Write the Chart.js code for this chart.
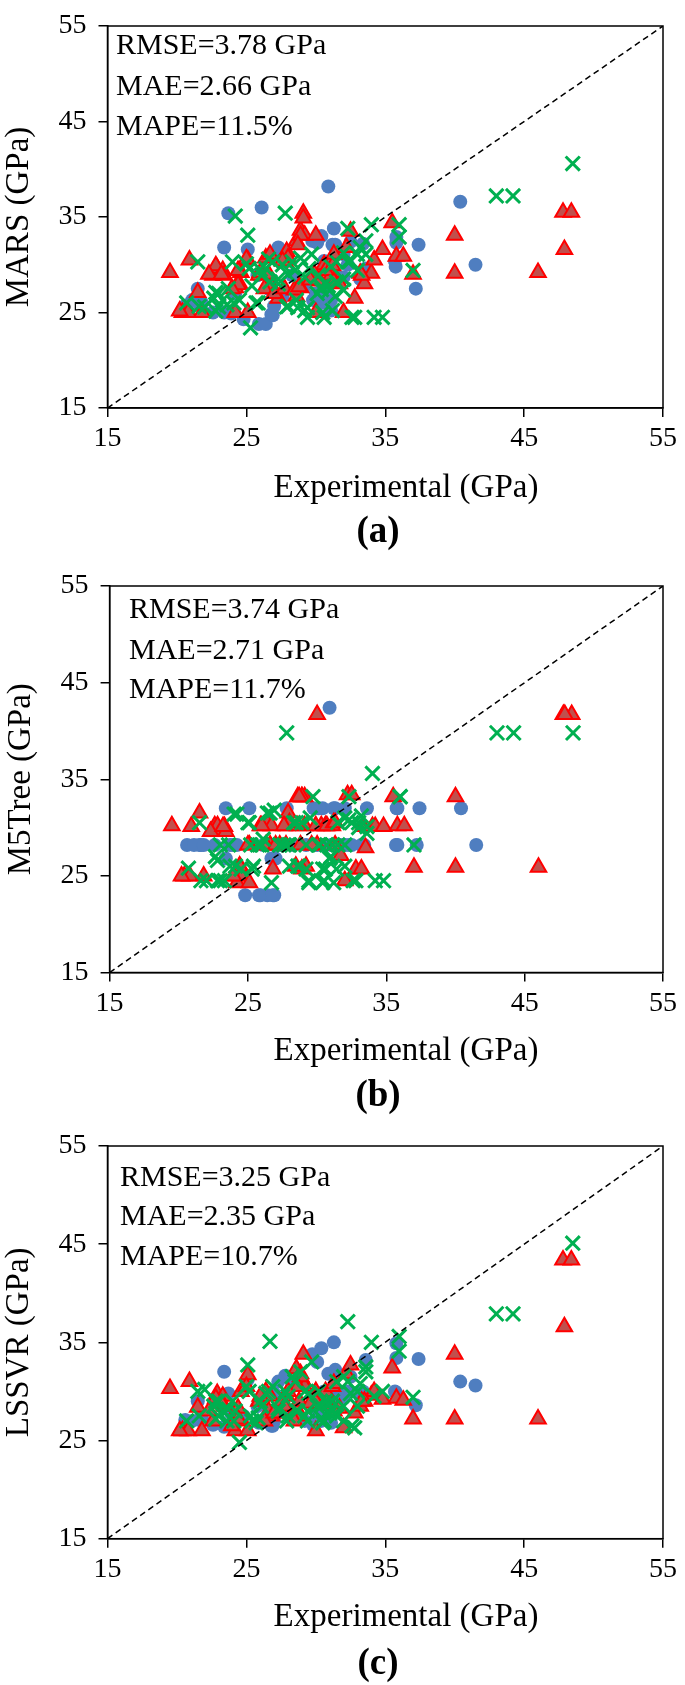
<!DOCTYPE html>
<html>
<head>
<meta charset="utf-8">
<script src="https://cdn.jsdelivr.net/npm/chart.js@4.4.1/dist/chart.umd.min.js"></script>
<style>
  html, body { margin: 0; padding: 0; background: #fff; }
  body { width: 685px; height: 1685px; position: relative; overflow: hidden; }
  .panel { position: absolute; left: 0; width: 685px; }
</style>
</head>
<body>
<div class="panel" style="top:0px"><canvas id="chartA" width="685" height="555"></canvas></div>
<div class="panel" style="top:560px"><canvas id="chartB" width="685" height="555"></canvas></div>
<div class="panel" style="top:1120px"><canvas id="chartC" width="685" height="565"></canvas></div>
<script>
// Axes (GPa)
const axisMin = 15;
const axisMax = 55;
const axisStep = 10;

// Experimental values, one array per marker group (same for the 3 models)
const expCircle = [30.9, 26.1, 23.7, 40.4, 31.3, 23.4, 25.1, 31.4, 29.75, 30.4, 33.4, 35.8, 35.8, 37.4, 35.75, 41.5, 37.2, 21.5, 20.6, 21.6, 23.4, 24.8, 25.9, 26.4, 26.9, 27.0, 27.8, 28.3, 29.2, 29.8, 30.6, 31.1, 32.3, 33.2, 33.6, 25.8, 26.7, 27.6, 23.9, 31.7, 32.0, 31.1, 22.6, 24.2,
    31.2, 30.1, 32.5, 35.7, 21.1, 21.8, 27.3, 30.6, 31.3, 31.5, 32.0, 27.0, 26.8, 31.1, 30.4, 30.0];
const expTriangle = [19.5, 20.9, 20.4, 20.8, 21.8, 21.5, 22.6, 22.9, 23.3, 23.4, 24.2, 24.5, 24.2, 24.6, 25.1, 25.1, 25.9, 26.4, 26.8, 27.3, 27.8, 27.9, 28.6, 28.9, 29.1, 29.1, 29.2, 30.0, 28.9, 28.6, 30.0, 30.3, 30.6, 32.0, 31.7, 32.2, 32.5, 32.8, 33.2, 34.0, 34.2, 34.8, 35.5, 35.8, 36.3, 37.0, 40.0, 40.0, 46.0, 47.8, 48.4, 47.9, 26.7, 31.1, 33.5,
    28.9, 28.7, 28.0, 27.6, 22.8, 22.3, 23.2, 24.4, 25.0, 26.0, 26.6, 24.4, 23.95, 20.2, 26.3, 27.0, 27.75, 28.46, 28.8, 29.9, 29.6, 30.7, 31.3, 31.2, 33.3, 31.3];
const expCross = [48.5, 43.0, 44.2, 27.8, 24.2, 25.1, 21.5, 20.7, 22.8, 23.3, 23.0, 23.6, 24.0, 24.5, 25.3, 25.2, 25.4, 26.1, 26.4, 26.9, 26.7, 27.3, 27.9, 28.3, 28.9, 29.5, 29.2, 29.4, 29.7, 30.2, 30.4, 30.6, 30.9, 31.4, 31.2, 32.0, 32.3, 32.3, 32.8, 33.0, 33.2, 33.6, 34.0, 34.2, 34.8, 36.0, 36.0, 37.0, 33.6, 31.5, 27.6, 28.6, 25.7, 22.0, 31.1,
    25.0, 26.0, 26.6, 28.0, 28.5, 29.2, 30.4, 31.0, 30.7, 32.0, 32.5, 33.0, 31.5, 32.0, 29.4, 30.5, 32.6, 21.6, 22.65, 24.1, 22.8, 23.0, 23.7, 25.85, 27.3, 28.0, 28.7, 30.1];

// MARS predictions
const marsCircle = [38.2, 36.0, 35.4, 36.6, 33.8, 31.8, 31.6, 32.1, 32.5, 33.0, 32.2, 32.9, 32.3, 32.1, 29.8, 30.0, 27.5, 27.5, 25.7, 25.9, 25.0, 24.3, 23.8, 23.8, 24.7, 30.7, 31.1, 28.9, 27.8, 26.3, 27.4, 25.2, 30.0, 28.5, 29.6, 28.9, 27.4, 26.7, 24.9, 28.2, 31.1, 29.6, 25.0, 27.0,
    32.1, 32.3, 32.4, 30.4, 26.3, 26.0, 31.8, 30.4, 29.05, 28.5, 28.7, 25.65, 24.8, 26.3, 26.0, 27.0];
const marsTriangle = [29.2, 30.5, 25.0, 25.0, 25.0, 27.1, 28.9, 29.6, 29.4, 28.9, 27.6, 28.0, 25.0, 29.2, 30.5, 25.0, 28.9, 30.7, 27.8, 26.5, 30.3, 31.4, 32.5, 33.6, 35.4, 34.9, 33.1, 33.1, 27.6, 26.7, 25.0, 28.3, 30.0, 25.0, 28.0, 31.8, 33.5, 26.5, 29.1, 29.1, 30.5, 31.6, 34.4, 30.9, 30.9, 29.0, 33.1, 29.1, 29.2, 35.5, 35.5, 31.6, 31.1, 28.9, 28.0,
    33.1, 32.1, 30.7, 30.4, 29.9, 29.0, 29.0, 29.4, 30.6, 29.2, 29.0, 27.9, 27.5, 25.15, 27.5, 27.0, 27.5, 27.35, 27.7, 29.05, 28.4, 29.4, 28.2, 29.9, 28.9, 31.1];
const marsCross = [40.6, 37.2, 37.2, 35.4, 35.1, 33.1, 30.3, 26.0, 27.1, 26.3, 25.6, 25.8, 30.3, 26.3, 23.4, 29.6, 27.8, 28.9, 29.6, 30.3, 28.2, 28.5, 25.6, 30.3, 30.7, 29.6, 25.2, 24.5, 31.1, 28.9, 27.4, 24.5, 27.8, 26.7, 25.2, 28.5, 30.3, 33.8, 24.5, 31.1, 31.8, 32.5, 34.2, 24.5, 24.5, 34.2, 32.9, 29.4, 31.1, 30.3, 30.0, 26.3, 26.0, 25.6, 29.8,
    30.1, 29.5, 30.6, 29.0, 29.4, 28.7, 27.7, 27.35, 28.0, 31.25, 30.4, 29.4, 28.2, 27.35, 25.5, 25.0, 24.5, 25.65, 26.5, 26.0, 25.15, 27.0, 27.5, 26.0, 28.0, 25.65, 25.5, 27.0];

// M5Tree predictions
const m5Circle = [42.4, 28.2, 28.2, 32.0, 32.0, 32.0, 32.0, 28.2, 32.0, 32.0, 28.2, 32.0, 28.2, 32.0, 32.0, 28.2, 28.2, 28.2, 28.2, 28.2, 26.8, 23.0, 23.0, 23.0, 23.0, 28.2, 32.0, 28.2, 28.2, 28.2, 28.2, 28.2, 28.2, 28.2, 32.0, 23.0, 26.8, 28.2, 28.2, 28.2, 32.0, 28.2, 28.2, 28.2,
    32.0, 32.0, 28.2, 28.2, 28.2, 28.2, 28.2, 28.2, 28.2, 28.2, 28.2, 26.8, 23.0, 28.2, 28.2, 28.2];
const m5Triangle = [30.2, 30.1, 25.0, 25.0, 25.0, 31.5, 30.2, 29.6, 30.1, 29.6, 25.0, 25.8, 24.3, 25.0, 28.2, 24.3, 30.2, 30.5, 25.7, 28.2, 30.2, 31.5, 33.2, 33.2, 33.2, 30.2, 26.0, 41.7, 25.7, 30.2, 28.2, 30.2, 30.2, 24.5, 27.1, 33.4, 33.4, 25.7, 25.7, 30.1, 30.1, 30.1, 33.2, 30.2, 30.2, 25.9, 33.2, 25.9, 25.9, 41.7, 41.7, 41.7, 30.2, 30.2, 27.9,
    33.2, 33.2, 30.5, 30.2, 30.2, 29.6, 30.1, 26.0, 28.2, 30.2, 28.2, 26.0, 25.0, 25.0, 28.2, 28.2, 28.2, 26.0, 28.2, 30.2, 28.2, 30.2, 28.2, 30.5, 30.1, 30.5];
const m5Cross = [39.8, 39.8, 39.8, 39.8, 31.4, 30.5, 30.5, 25.8, 26.6, 24.5, 24.5, 28.2, 31.4, 25.7, 25.7, 28.2, 26.0, 28.8, 31.5, 31.8, 24.3, 28.2, 28.2, 30.5, 30.5, 31.0, 25.7, 24.3, 33.2, 28.2, 24.3, 25.7, 26.8, 25.7, 24.3, 28.2, 30.8, 33.2, 24.5, 30.5, 31.2, 29.4, 35.6, 24.5, 24.5, 33.2, 33.2, 28.2, 30.1, 30.5, 28.2, 26.0, 28.2, 24.5, 28.2,
    30.5, 28.2, 31.5, 28.2, 30.5, 28.2, 25.7, 27.0, 28.2, 31.0, 30.5, 30.0, 28.2, 26.0, 24.5, 24.5, 24.5, 24.5, 27.0, 26.0, 24.5, 28.2, 26.0, 28.2, 28.2, 26.0, 26.0, 28.2];

// LSSVR predictions
const lssvrCircle = [31.8, 29.5, 29.8, 31.0, 35.0, 32.0, 31.2, 32.2, 33.8, 34.4, 30.0, 34.9, 33.4, 33.3, 29.9, 30.6, 28.6, 29.0, 27.1, 27.1, 26.4, 27.5, 26.8, 27.0, 26.5, 29.8, 31.6, 30.5, 27.0, 26.6, 28.0, 26.8, 30.0, 29.5, 33.2, 28.5, 27.8, 28.0, 27.8, 29.6, 29.4, 29.2, 26.6, 28.0,
    31.8, 33.0, 31.5, 30.0, 27.0, 27.3, 31.0, 30.0, 29.5, 29.0, 29.3, 27.0, 26.5, 27.5, 27.0, 28.0];
const lssvrTriangle = [30.3, 31.0, 26.0, 26.0, 26.0, 28.4, 27.0, 29.8, 29.5, 28.5, 27.5, 27.0, 26.0, 30.0, 31.7, 26.0, 29.0, 30.0, 27.5, 27.8, 28.5, 29.5, 32.3, 31.8, 33.8, 31.0, 30.5, 30.0, 27.5, 28.2, 26.0, 28.8, 29.5, 26.3, 28.3, 31.8, 32.7, 27.8, 28.5, 29.6, 30.0, 29.2, 32.4, 29.3, 29.1, 27.2, 33.8, 27.2, 27.2, 43.4, 43.4, 36.6, 29.5, 28.6, 29.0,
    31.5, 30.5, 30.0, 29.0, 29.3, 28.0, 28.8, 28.3, 30.5, 29.5, 28.0, 27.2, 26.5, 26.0, 27.0, 27.8, 28.5, 27.0, 29.0, 29.2, 28.8, 30.0, 28.0, 30.5, 29.0, 30.8];
const lssvrCross = [45.1, 37.9, 37.9, 30.0, 28.0, 32.7, 30.0, 27.0, 29.0, 28.0, 27.5, 27.0, 29.0, 24.8, 27.5, 30.0, 27.0, 28.5, 29.8, 30.5, 35.1, 28.3, 27.0, 31.5, 32.0, 29.8, 27.5, 28.0, 33.0, 30.0, 27.3, 27.0, 28.8, 27.8, 29.0, 28.5, 31.0, 37.1, 26.3, 30.0, 30.8, 32.5, 35.0, 29.5, 30.0, 35.6, 34.1, 29.4, 32.0, 31.0, 29.5, 28.0, 26.8, 30.2, 28.3,
    30.5, 29.0, 30.0, 29.5, 31.0, 30.0, 28.5, 27.8, 29.0, 31.5, 29.8, 28.5, 27.5, 27.0, 27.0, 26.8, 26.5, 27.5, 28.5, 27.0, 27.2, 29.0, 28.2, 27.3, 28.0, 27.5, 28.0, 28.5];

// Error metrics shown on each panel
const marsStats = ['RMSE=3.78 GPa', 'MAE=2.66 GPa', 'MAPE=11.5%'];
const m5Stats = ['RMSE=3.74 GPa', 'MAE=2.71 GPa', 'MAPE=11.7%'];
const lssvrStats = ['RMSE=3.25 GPa', 'MAE=2.35 GPa', 'MAPE=10.7%'];

const FONT = '"Liberation Serif", "Times New Roman", serif';
Chart.defaults.font.family = FONT;
Chart.defaults.color = '#000';

function toPoints(xs, ys) {
    return xs.map((x, i) => ({ x: x, y: ys[i] }));
}

// Cadre, métriques, titre de l'axe x et lettre du panneau
const panelDecor = {
    id: 'panelDecor',
    afterDraw(chart, args, opts) {
        const { ctx, chartArea: a } = chart;
        ctx.save();
        ctx.strokeStyle = '#000';
        ctx.lineWidth = 1.5;
        ctx.strokeRect(a.left, a.top, a.right - a.left, a.bottom - a.top);
        ctx.fillStyle = '#000';
        ctx.textBaseline = 'middle';
        ctx.textAlign = 'left';
        ctx.font = '30px ' + FONT;
        opts.stats.forEach((s, i) => ctx.fillText(s, opts.statsX, opts.statsY[i]));
        ctx.textAlign = 'center';
        ctx.font = '33px ' + FONT;
        ctx.fillText('Experimental (GPa)', 406, opts.xTitleY);
        ctx.font = 'bold 37px ' + FONT;
        ctx.fillText(opts.label, 378, opts.labelY);
        ctx.restore();
    }
};

function makePanel(id, yTitle, circles, triangles, crosses, layout) {
    new Chart(document.getElementById(id), {
        type: 'scatter',
        data: {
            datasets: [
                {
                    type: 'line',
                    data: [{ x: axisMin, y: axisMin }, { x: axisMax, y: axisMax }],
                    borderColor: '#000',
                    borderWidth: 1.5,
                    borderDash: [6, 4],
                    pointRadius: 0,
                    fill: false
                },
                {
                    data: toPoints(expCross, crosses),
                    pointStyle: 'crossRot',
                    pointRadius: 10,
                    borderColor: '#00B050',
                    backgroundColor: '#00B050',
                    borderWidth: 3
                },
                {
                    data: toPoints(expTriangle, triangles),
                    pointStyle: 'triangle',
                    pointRadius: 9,
                    backgroundColor: '#C0504D',
                    borderColor: '#FF0000',
                    borderWidth: 2
                },
                {
                    data: toPoints(expCircle, circles),
                    pointStyle: 'circle',
                    pointRadius: 7,
                    backgroundColor: '#4F7EC0',
                    borderColor: '#4F7EC0',
                    borderWidth: 0
                }
            ]
        },
        options: {
            responsive: false,
            animation: false,
            events: [],
            layout: { padding: { top: layout.padTop, right: 15.3, left: 0, bottom: 0 } },
            plugins: {
                legend: { display: false },
                tooltip: { enabled: false },
                panelDecor: layout
            },
            scales: {
                x: {
                    type: 'linear',
                    min: axisMin,
                    max: axisMax,
                    ticks: { stepSize: axisStep, padding: 8, font: { size: 28, lineHeight: 1 }, maxRotation: 0 },
                    grid: { drawOnChartArea: false, tickLength: 9, color: '#000', lineWidth: 1.5 },
                    border: { display: true, color: '#000', width: 1.5 },
                    afterFit: s => { s.height = layout.xHeight; }
                },
                y: {
                    type: 'linear',
                    min: axisMin,
                    max: axisMax,
                    ticks: { stepSize: axisStep, padding: 12, font: { size: 28, lineHeight: 1 } },
                    grid: { drawOnChartArea: false, tickLength: 9, color: '#000', lineWidth: 1.5 },
                    border: { display: true, color: '#000', width: 1.5 },
                    title: { display: true, text: yTitle, font: { size: 33, lineHeight: 1.2 }, padding: { top: layout.yTitlePad, bottom: 0 } },
                    afterFit: s => { s.width = layout.yWidth; }
                }
            }
        },
        plugins: [panelDecor]
    });
}

makePanel('chartA', 'MARS (GPa)', marsCircle, marsTriangle, marsCross, {
    padTop: 15, xHeight: 147, yWidth: 107.5, yTitlePad: 0,
    stats: marsStats, statsX: 116, statsY: [46, 87, 127],
    xTitleY: 488, label: '(a)', labelY: 532
});
makePanel('chartB', 'M5Tree (GPa)', m5Circle, m5Triangle, m5Cross, {
    padTop: 19.6, xHeight: 142.5, yWidth: 109.6, yTitlePad: 2,
    stats: m5Stats, statsX: 129, statsY: [50, 91, 130],
    xTitleY: 491, label: '(b)', labelY: 536
});
makePanel('chartC', 'LSSVR (GPa)', lssvrCircle, lssvrTriangle, lssvrCross, {
    padTop: 25.2, xHeight: 146.3, yWidth: 107.5, yTitlePad: 0,
    stats: lssvrStats, statsX: 120, statsY: [58, 97, 137],
    xTitleY: 497, label: '(c)', labelY: 544
});
</script>
</body>
</html>
